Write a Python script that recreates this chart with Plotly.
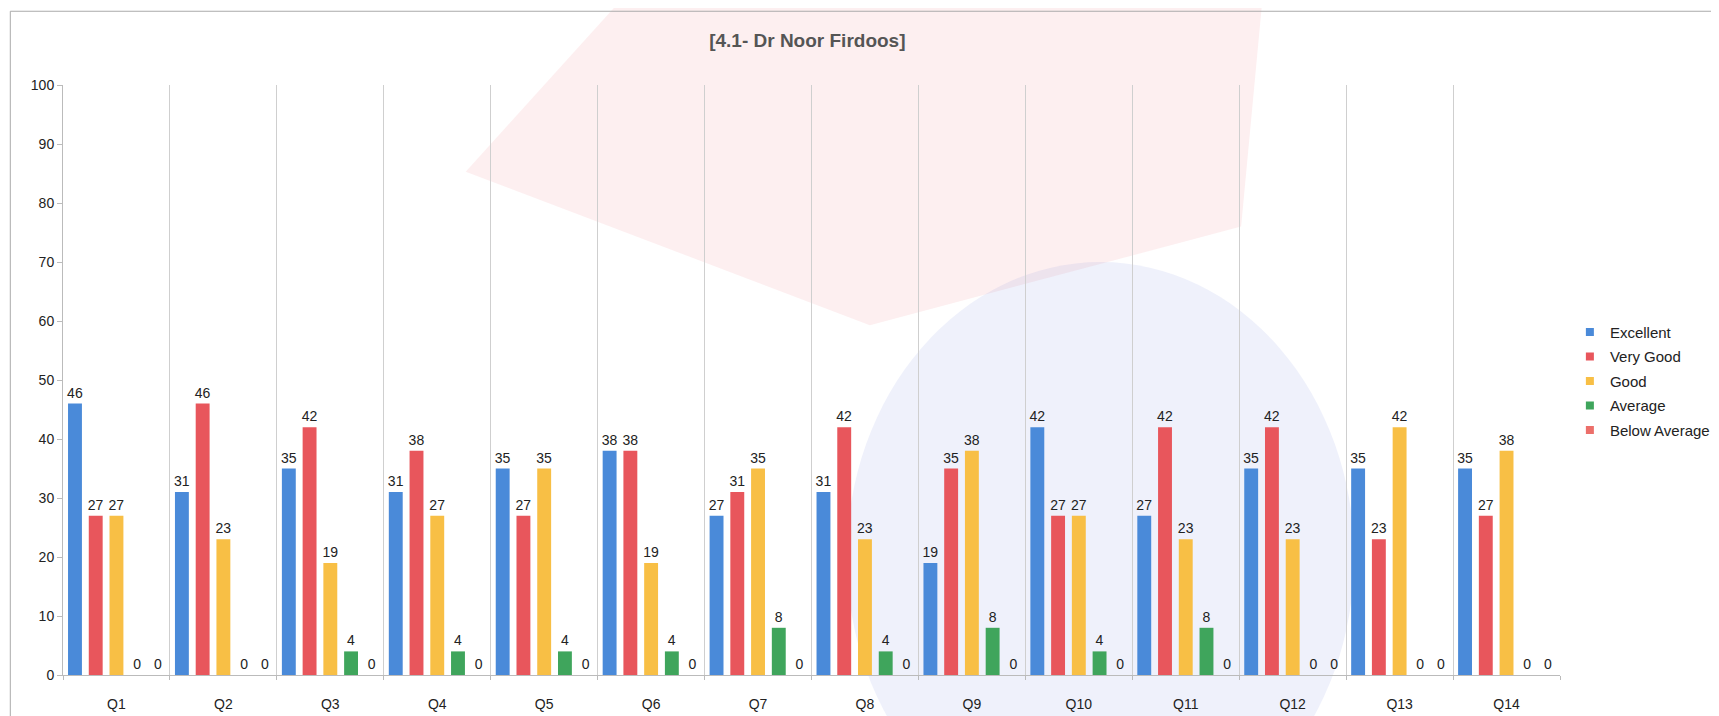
import plotly.graph_objects as go

questions = ["Q1", "Q2", "Q3", "Q4", "Q5", "Q6", "Q7", "Q8", "Q9", "Q10", "Q11", "Q12", "Q13", "Q14"]
excellent = [46, 31, 35, 31, 35, 38, 27, 31, 19, 42, 27, 35, 35, 35]
very_good = [27, 46, 42, 38, 27, 38, 31, 42, 35, 27, 42, 42, 23, 27]
good = [27, 23, 19, 27, 35, 19, 35, 23, 38, 27, 23, 23, 42, 38]
average = [0, 0, 4, 4, 4, 4, 8, 4, 8, 4, 8, 0, 0, 0]
below_average = [0, 0, 0, 0, 0, 0, 0, 0, 0, 0, 0, 0, 0, 0]

series = [
    ("Excellent", excellent, "#4a8ad9"),
    ("Very Good", very_good, "#e8565c"),
    ("Good", good, "#f8bf45"),
    ("Average", average, "#3fa55c"),
    ("Below Average", below_average, "#ec6f6a"),
]

fig = go.Figure()
for name, vals, color in series:
    fig.add_trace(
        go.Bar(
            x=questions,
            y=vals,
            name=name,
            showlegend=False,
            marker=dict(color=color, line=dict(width=0)),
            text=vals,
            textposition="outside",
            constraintext="none",
            textfont=dict(size=14, color="#222222"),
            cliponaxis=False,
        )
    )

# legend entries with small square keys (like the spreadsheet export)
for name, vals, color in series:
    fig.add_trace(
        go.Scatter(
            x=[None],
            y=[None],
            mode="markers",
            name=name,
            legendgroup=name,
            marker=dict(symbol="square", size=8, color=color),
        )
    )

# faint watermark from the scanned page
fig.add_shape(
    type="path",
    xref="paper", yref="paper",
    path="M 0.269 0.853 L 0.371 1.139 L 0.801 1.139 L 0.787 0.760 L 0.539 0.593 Z",
    fillcolor="rgba(235,120,130,0.12)", line=dict(width=0), layer="below",
)
fig.add_shape(
    type="circle",
    xref="paper", yref="paper",
    x0=0.5236, x1=0.8625, y0=-0.30, y1=0.70,
    fillcolor="rgba(120,140,220,0.12)", line=dict(width=0), layer="below",
)
# page frame
fig.add_shape(
    type="rect",
    xref="paper", yref="paper",
    x0=-0.0352, x1=1.2, y0=-0.0726, y1=1.125,
    line=dict(color="#aaaaaa", width=1),
)

fig.update_layout(
    width=1719,
    height=716,
    margin=dict(l=55, r=159, t=77, b=47),
    paper_bgcolor="white",
    plot_bgcolor="rgba(0,0,0,0)",
    font=dict(family="Liberation Sans, Arial, sans-serif", color="#222222"),
    title=dict(
        text="<b>[4.1- Dr Noor Firdoos]</b>",
        x=0.465, xanchor="center",
        y=0.955, yanchor="middle",
        font=dict(size=19, color="#555555"),
    ),
    barmode="group",
    bargap=0.03,
    bargroupgap=0.33,
    legend=dict(
        x=1.0066, xanchor="left",
        y=0.609, yanchor="top",
        font=dict(size=15, color="#222222"),
        tracegroupgap=2,
        itemwidth=30,
        bgcolor="rgba(0,0,0,0)",
    ),
    showlegend=True,
)
fig.update_xaxes(
    tickson="boundaries",
    showgrid=True,
    gridcolor="#cfcfcf",
    gridwidth=1,
    showline=True,
    linecolor="#bbbbbb",
    ticks="outside",
    ticklen=4,
    tickcolor="#bbbbbb",
    ticklabelstandoff=16,
    tickfont=dict(size=14, color="#222222"),
)
fig.update_yaxes(
    range=[0, 100],
    dtick=10,
    showgrid=False,
    zeroline=False,
    showline=True,
    linecolor="#bbbbbb",
    ticks="outside",
    ticklen=5,
    tickcolor="#bbbbbb",
    tickfont=dict(size=14, color="#222222"),
)

fig.write_html("out.html")
